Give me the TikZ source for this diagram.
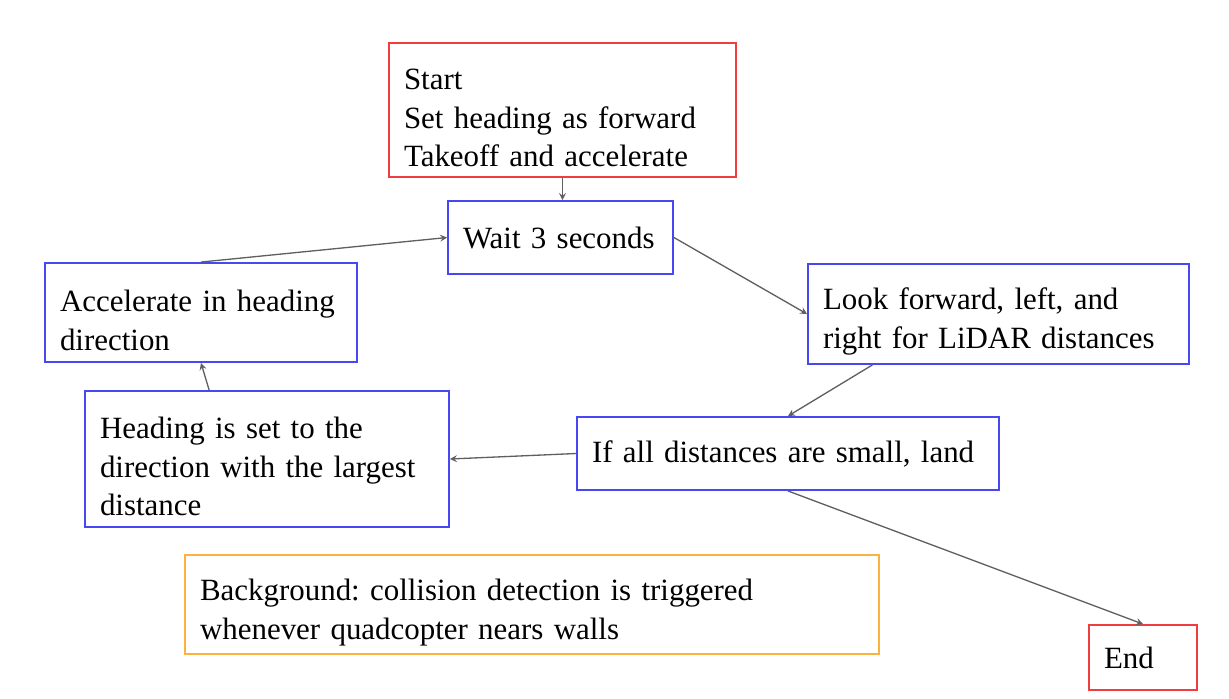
\documentclass[tikz,border=0pt]{standalone}
\usepackage{fontspec}
\setmainfont{Liberation Serif}
\frenchspacing
\hyphenpenalty=10000
\definecolor{boxred}{RGB}{240,62,62}
\definecolor{boxblue}{RGB}{72,72,242}
\definecolor{boxorange}{RGB}{252,178,64}
\definecolor{flowgray}{RGB}{95,95,95}
\tikzset{
  stepbox/.style={draw, line width=1.1pt, align=left, inner xsep=0.3cm,
    font=\fontsize{17.6}{22}\selectfont},
  tallbox/.style={stepbox, execute at begin node={\rule{0pt}{21pt}}},
  flow/.style={->,>=stealth, draw=flowgray, line width=0.75pt}
}
\begin{document}
\begin{tikzpicture}[x=0.02cm,y=-0.02cm]
  \useasboundingbox (0,0) rectangle (1229,698);
  \node [tallbox, draw=boxred, text width=6.34cm, minimum height=2.68cm] (start) at (562.5,110) {Start\\Set heading as forward\\Takeoff and accelerate};
  \node [stepbox, draw=boxblue, text width=3.9cm, minimum height=1.46cm] (wait) at (560.5,237.5) {Wait 3 seconds};
  \node [tallbox, draw=boxblue, text width=5.64cm, minimum height=1.98cm] (accel) at (201,312.5) {Accelerate in heading\\direction};
  \node [tallbox, draw=boxblue, text width=7.02cm, minimum height=2cm] (look) at (998.5,314) {Look forward, left, and\\right for LiDAR distances};
  \node [stepbox, draw=boxblue, text width=7.84cm, minimum height=1.46cm] (check) at (788,453.5) {If all distances are small, land};
  \node [tallbox, draw=boxblue, text width=6.68cm, minimum height=2.72cm] (heading) at (267,459) {Heading is set to the\\direction with the largest\\distance};
  \node [tallbox, draw=boxorange, text width=13.28cm, minimum height=1.98cm] (backgr) at (532,604.5) {Background: collision detection is triggered\\whenever quadcopter nears walls};
  \node [stepbox, draw=boxred, text width=1.56cm, minimum height=1.3cm] (finish) at (1143,657.5) {End};
  \draw [flow] (start.south) -- (start.south |- wait.north);
  \draw [flow] (accel.north) -- (wait.west);
  \draw [flow] (wait.east) -- (look.west);
  \draw [flow] (look.202.5) -- (check.north);
  \draw [flow] (check.west) -- (heading.east);
  \draw [flow] (heading.130) -- (accel.south);
  \draw [flow] (check.south) -- (finish.north);
\end{tikzpicture}
\end{document}
